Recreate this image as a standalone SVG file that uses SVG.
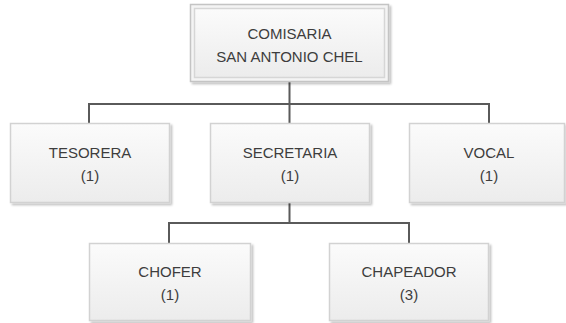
<svg xmlns="http://www.w3.org/2000/svg" width="566" height="323" viewBox="0 0 566 323">
  <defs>
    <linearGradient id="fillg" x1="0" y1="0" x2="0" y2="1">
      <stop offset="0" stop-color="#fbfbfb"/>
      <stop offset="1" stop-color="#ececec"/>
    </linearGradient>
    <filter id="shadow" x="-5%" y="-5%" width="115%" height="120%">
      <feGaussianBlur in="SourceAlpha" stdDeviation="1.2"/>
      <feOffset dx="2" dy="2" result="b"/>
      <feComponentTransfer><feFuncA type="linear" slope="0.25"/></feComponentTransfer>
      <feMerge><feMergeNode/><feMergeNode in="SourceGraphic"/></feMerge>
    </filter>
  </defs>
  <style>
    .box { fill: url(#fillg); stroke: #d2d2d2; stroke-width: 1.5; filter: url(#shadow); }
    .outer { fill: #f4f4f4; stroke: #c4c4c4; stroke-width: 1.5; filter: url(#shadow); }
    .inner { fill: url(#fillg); stroke: #d6d6d6; stroke-width: 1.5; }
    .lbl { font-family: "Liberation Sans", Arial, sans-serif; font-size: 15px; fill: #3d3d3d; text-anchor: middle; }
    .conn { fill: none; stroke: #5a5a5a; stroke-width: 2; }
  </style>
  <g id="connectors">
    <path class="conn" d="M289.5 82 V104 M89 104 H489 M89 103 V123 M289.5 104 V123 M489 103 V123"/>
    <path class="conn" d="M289.5 203 V223 M169 223 H409 M169 222 V243 M409 222 V243"/>
  </g>
  <g id="comisaria">
    <rect class="outer" x="190.5" y="4.5" width="198" height="77"/>
    <rect class="inner" x="194.5" y="8.5" width="190" height="69"/>
    <text class="lbl" x="289.5" y="39">COMISARIA</text>
    <text class="lbl" x="289.5" y="61.5">SAN ANTONIO CHEL</text>
  </g>
  <g id="tesorera">
    <rect class="box" x="10.5" y="123.5" width="159" height="79"/>
    <text class="lbl" x="90" y="158">TESORERA</text>
    <text class="lbl" x="90" y="181">(1)</text>
  </g>
  <g id="secretaria">
    <rect class="box" x="210.5" y="123.5" width="159" height="79"/>
    <text class="lbl" x="290" y="158">SECRETARIA</text>
    <text class="lbl" x="290" y="181">(1)</text>
  </g>
  <g id="vocal">
    <rect class="box" x="409.5" y="123.5" width="155" height="79"/>
    <text class="lbl" x="489" y="158">VOCAL</text>
    <text class="lbl" x="489" y="181">(1)</text>
  </g>
  <g id="chofer">
    <rect class="box" x="89.5" y="243.5" width="161" height="77"/>
    <text class="lbl" x="170" y="277">CHOFER</text>
    <text class="lbl" x="170" y="300">(1)</text>
  </g>
  <g id="chapeador">
    <rect class="box" x="329.5" y="243.5" width="159" height="77"/>
    <text class="lbl" x="409" y="277">CHAPEADOR</text>
    <text class="lbl" x="409" y="300">(3)</text>
  </g>
</svg>
